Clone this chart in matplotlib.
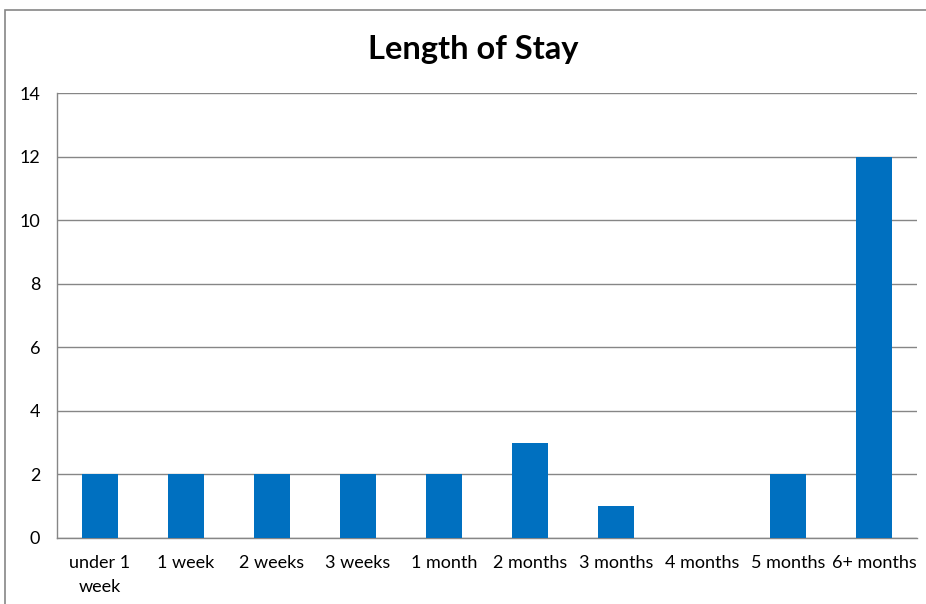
import matplotlib.pyplot as plt
from matplotlib.patches import Rectangle

# Data
categories = ['under 1\nweek', '1 week', '2 weeks', '3 weeks', '1 month',
              '2 months', '3 months', '4 months', '5 months', '6+ months']
counts = [2, 2, 2, 2, 2, 3, 1, 0, 2, 12]
y_ticks = [0, 2, 4, 6, 8, 10, 12, 14]

plt.rcParams['font.family'] = ['Lato', 'DejaVu Sans']

fig = plt.figure(figsize=(9.26, 6.04), dpi=100)
W, H = 926, 604

# Outer chart border (cut off at right and bottom, like the reference)
fig.patches.append(Rectangle((5 / W, -0.05), 1.05, 1 - 10 / H + 0.05,
                             transform=fig.transFigure, fill=False,
                             edgecolor='#868686', linewidth=1.2))

ax = fig.add_axes([57 / W, 1 - 538 / H, (917 - 57) / W, (538 - 93) / H])
x = range(len(categories))
ax.bar(x, counts, width=0.41, color='#0070C0', zorder=3)

ax.set_xlim(-0.5, len(categories) - 0.5)
ax.set_ylim(0, 14)
ax.set_yticks(y_ticks)
ax.set_xticks(list(x))
ax.set_xticklabels(categories, fontsize=13, linespacing=1.65)
ax.tick_params(axis='y', labelsize=13, length=0, pad=12)
ax.tick_params(axis='x', length=0, pad=12)

ax.grid(axis='y', color='#868686', linewidth=1, zorder=0)
for side in ['top', 'right']:
    ax.spines[side].set_visible(False)
for side in ['left', 'bottom']:
    ax.spines[side].set_color('#868686')
    ax.spines[side].set_linewidth(1)

fig.text(473 / W, 1 - 49 / H, 'Length of Stay', ha='center', va='center',
         fontsize=23.5, fontweight='bold')

fig.savefig('out.png', dpi=100)
